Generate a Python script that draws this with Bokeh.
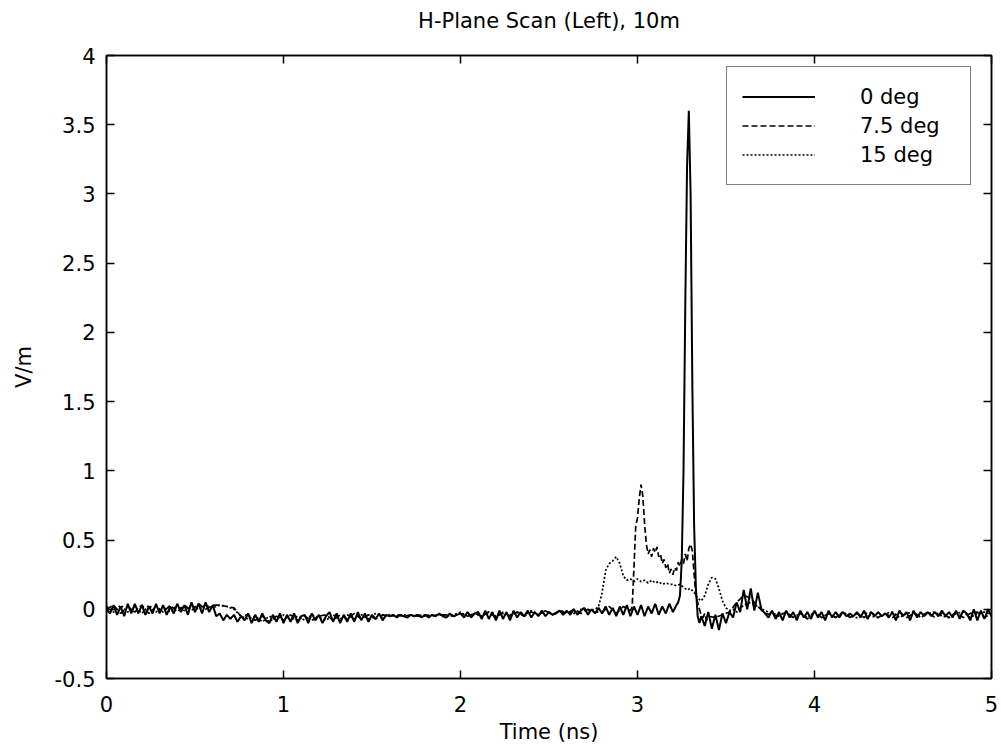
import numpy as np
from bokeh.plotting import figure
from bokeh.models import Range1d, LinearAxis, FixedTicker
from bokeh.embed import file_html
from bokeh.resources import INLINE

# ---------------- data ----------------
title_text = "H-Plane Scan (Left), 10m"
x_label = "Time (ns)"
y_label = "V/m"
series_names = ["0 deg", "7.5 deg", "15 deg"]

x_ticks = [0, 1, 2, 3, 4, 5]
x_tick_labels = ["0", "1", "2", "3", "4", "5"]
y_ticks = [-0.5, 0, 0.5, 1, 1.5, 2, 2.5, 3, 3.5, 4]
y_tick_labels = ["-0.5", "0", "0.5", "1", "1.5", "2", "2.5", "3", "3.5", "4"]

# 0 deg (solid): three segments (start, step, values)
deg0_a_start, deg0_a_step = 0.00, 0.02
deg0_a = [
    0.00, -0.03, 0.03, -0.04, 0.02, -0.05, 0.04, -0.03, 0.04, -0.03,
    0.03, -0.04, 0.02, -0.03, 0.04, -0.03, 0.03, -0.04, 0.02, -0.03,
    0.04, -0.02, 0.03, -0.04, 0.05, -0.02, 0.04, -0.03, 0.05, -0.02,
    0.03, -0.05, -0.03, -0.08, -0.04, -0.07, -0.04, -0.09, -0.05, -0.08,
    -0.03, -0.10, -0.04, -0.09, -0.03, -0.08, -0.10, -0.04, -0.09, -0.03,
    -0.10, -0.04, -0.09, -0.03, -0.10, -0.05, -0.04, -0.10, -0.03, -0.08,
    -0.04, -0.10, -0.05, -0.02, -0.09, -0.03, -0.10, -0.04, -0.09, -0.03,
    -0.09, -0.02, -0.08, -0.03, -0.09, -0.04, -0.07, -0.03, -0.08, -0.04,
    -0.05, -0.04, -0.06, -0.04, -0.05, -0.06, -0.04, -0.05, -0.04, -0.06,
    -0.04, -0.06, -0.04, -0.05, -0.03, -0.05, -0.06, -0.03, -0.05, -0.04,
    -0.03, -0.06, -0.02, -0.06, -0.03, -0.02, -0.07, -0.01, -0.07, -0.02,
    -0.08, -0.01, -0.07, -0.02, -0.08, -0.01, -0.06, -0.02, -0.05, -0.01,
    -0.06, -0.02, -0.05, -0.01, -0.05, -0.02, -0.04, -0.03, -0.01, -0.04,
    -0.01, -0.04, 0.00, -0.04, -0.01, 0.01, -0.04, 0.00, -0.03, 0.01,
    -0.03, 0.02, -0.04, 0.01, -0.05, 0.02, -0.04, 0.03, -0.05, 0.02,
    -0.04, 0.03, -0.05, 0.02, -0.03, 0.04, -0.04, 0.02, -0.03, 0.04,
    -0.02, 0.03,
]
deg0_b_start, deg0_b_step = 3.23, 0.01
deg0_b = [0.05, 0.10, 0.35, 1.00, 2.20, 3.20, 3.60, 3.00, 1.60, 0.60, 0.15, -0.05, -0.10]
deg0_c_start, deg0_c_step = 3.36, 0.02
deg0_c = [
    -0.05, -0.12, -0.02, -0.14, -0.04, -0.15, -0.03, -0.10, -0.02, -0.06,
    0.05, -0.02, 0.14, 0.00, 0.15, -0.01, 0.12, 0.00, -0.03, -0.06,
    -0.01, -0.07, -0.02, -0.08, -0.01, -0.06, -0.02, -0.08, -0.01, -0.06,
    -0.02, -0.07, -0.01, -0.06, -0.02, -0.08, -0.01, -0.06, -0.02, -0.06,
    -0.02, -0.05, -0.03, -0.05, -0.02, -0.06, -0.01, -0.07, -0.02, -0.05,
    -0.02, -0.05, -0.03, -0.06, -0.02, -0.08, -0.01, -0.05, -0.02, -0.08,
    -0.01, -0.06, -0.02, -0.05, -0.02, -0.05, -0.02, -0.05, -0.01, -0.05,
    -0.02, -0.06, -0.01, -0.07, -0.01, -0.03, -0.08, 0.00, -0.08, -0.01,
    -0.07, 0.00, -0.05,
]

# 7.5 deg (dashed)
deg75_a_start, deg75_a_step = 0.00, 0.04
deg75_a = [
    0.00, 0.03, -0.03, 0.02, -0.02, 0.03, -0.03, 0.02, -0.02, 0.03,
    -0.02, 0.03, -0.01, 0.04, 0.00, 0.03, 0.03, 0.02, 0.01, -0.05,
    -0.04, -0.08, -0.05, -0.09, -0.05, -0.08, -0.04, -0.08, -0.05, -0.08,
    -0.05, -0.04, -0.08, -0.04, -0.07, -0.03, -0.07, -0.04, -0.07, -0.04,
    -0.05, -0.04, -0.05, -0.04, -0.05, -0.04, -0.05, -0.04, -0.04, -0.05,
    -0.03, -0.05, -0.03, -0.05, -0.02, -0.06, -0.02, -0.05, -0.02, -0.05,
    -0.02, -0.04, -0.01, -0.04, -0.01, -0.03, 0.00, -0.03, 0.00, -0.02,
    -0.02, 0.02, -0.03, 0.02, -0.01,
]
deg75_b_start, deg75_b_step = 2.97, 0.01
deg75_b = [
    0.02, 0.30, 0.60, 0.66, 0.80, 0.90, 0.82, 0.62, 0.47, 0.40,
    0.43, 0.38, 0.44, 0.41, 0.45, 0.38, 0.40, 0.33, 0.36, 0.30,
    0.33, 0.26, 0.29, 0.25, 0.30, 0.28, 0.34, 0.31, 0.36, 0.33,
    0.40, 0.35, 0.44, 0.47, 0.42, 0.25, 0.10, 0.05, 0.00, -0.04,
    -0.06, -0.03, -0.08, -0.05,
]
deg75_c_start, deg75_c_step = 3.44, 0.04
deg75_c = [
    -0.06, -0.04, -0.02, 0.05, 0.10, 0.08, 0.02, -0.03, -0.04, -0.05,
    -0.02, -0.06, -0.03, -0.07, -0.02, -0.06, -0.03, -0.06, -0.02, -0.06,
    -0.03, -0.06, -0.02, -0.06, -0.03, -0.06, -0.02, -0.06, -0.03, -0.05,
    -0.02, -0.06, -0.03, -0.06, -0.02, -0.06, -0.03, -0.02, -0.06, -0.03,
]

# 15 deg (dotted)
deg15_a_start, deg15_a_step = 0.00, 0.04
deg15_a = [
    0.02, -0.02, 0.03, -0.02, 0.02, -0.03, 0.03, -0.02, 0.02, -0.02,
    0.03, -0.01, 0.03, 0.00, 0.03, 0.01, 0.03, 0.02, 0.00, -0.05,
    -0.07, -0.05, -0.09, -0.05, -0.08, -0.04, -0.08, -0.05, -0.08, -0.04,
    -0.06, -0.08, -0.04, -0.07, -0.04, -0.07, -0.04, -0.07, -0.03, -0.06,
    -0.04, -0.05, -0.04, -0.05, -0.04, -0.05, -0.04, -0.04, -0.05, -0.04,
    -0.02, -0.05, -0.03, -0.05, -0.02, -0.05, -0.03, -0.04, -0.02, -0.05,
    -0.01, -0.04, -0.01, -0.04, -0.01, -0.02, -0.03, 0.00, -0.01, 0.00,
]
deg15_b_start, deg15_b_step = 2.78, 0.02
deg15_b = [
    0.02, 0.12, 0.28, 0.33, 0.35, 0.38, 0.33, 0.24, 0.21, 0.22,
    0.20, 0.22, 0.20, 0.21, 0.19, 0.21, 0.19, 0.20, 0.18, 0.19,
    0.18, 0.18, 0.17, 0.18, 0.16, 0.14, 0.15, 0.12, 0.08, 0.06,
    0.10, 0.18, 0.23, 0.22, 0.15, 0.06, 0.01, -0.01, 0.00, -0.02,
]
deg15_c_start, deg15_c_step = 3.60, 0.04
deg15_c = [
    0.03, 0.05, 0.02, -0.01, -0.03, -0.04, -0.02, -0.06, -0.03, -0.06,
    -0.02, -0.06, -0.03, -0.06, -0.02, -0.05, -0.06, -0.02, -0.05, -0.06,
    -0.03, -0.02, -0.06, -0.03, -0.02, -0.06, -0.03, -0.02, -0.05, -0.06,
    -0.03, -0.02, -0.06, -0.03, -0.02, -0.04,
]


def seg_t(start, step, vals):
    return [round(start + step * i, 4) for i in range(len(vals))]


t0 = seg_t(deg0_a_start, deg0_a_step, deg0_a) + seg_t(deg0_b_start, deg0_b_step, deg0_b) + seg_t(deg0_c_start, deg0_c_step, deg0_c)
v0 = deg0_a + deg0_b + deg0_c
t75 = seg_t(deg75_a_start, deg75_a_step, deg75_a) + seg_t(deg75_b_start, deg75_b_step, deg75_b) + seg_t(deg75_c_start, deg75_c_step, deg75_c)
v75 = deg75_a + deg75_b + deg75_c
t15 = seg_t(deg15_a_start, deg15_a_step, deg15_a) + seg_t(deg15_b_start, deg15_b_step, deg15_b) + seg_t(deg15_c_start, deg15_c_step, deg15_c)
v15 = deg15_a + deg15_b + deg15_c

# ---------------- figure ----------------
FONT = "DejaVu Sans"
FS = "21px"

p = figure(width=1001, height=754, output_backend="svg", toolbar_location=None,
           title=None,
           x_range=Range1d(0, 5), y_range=Range1d(-0.5, 4),
           min_border_left=106, min_border_right=10, min_border_top=55, min_border_bottom=76)
p.background_fill_color = "white"
p.border_fill_color = "white"
p.outline_line_color = "black"
p.outline_line_width = 1.5
p.grid.visible = False

xt = FixedTicker(ticks=x_ticks)
yt = FixedTicker(ticks=y_ticks)

for ax, tk, labels in ((p.xaxis[0], xt, x_tick_labels), (p.yaxis[0], yt, y_tick_labels)):
    ax.ticker = tk
    ax.major_label_overrides = {v: s for v, s in zip(tk.ticks, labels)}
    ax.major_tick_in = 8
    ax.major_tick_out = 0
    ax.minor_tick_line_color = None
    ax.axis_line_width = 1.5
    ax.major_tick_line_width = 1.5
    ax.axis_line_color = "black"
    ax.major_label_text_font = FONT
    ax.major_label_text_font_size = FS
    ax.major_label_text_color = "black"
    ax.axis_label_text_font = FONT
    ax.axis_label_text_font_size = FS
    ax.axis_label_text_font_style = "normal"
    ax.axis_label_text_color = "black"

p.xaxis[0].axis_label = x_label
p.yaxis[0].axis_label = y_label
p.xaxis[0].major_label_standoff = 17
p.xaxis[0].axis_label_standoff = 5
p.yaxis[0].major_label_standoff = 11
p.yaxis[0].axis_label_standoff = 16

# mirrored ticks on the right; the top axis also carries the chart title
right_ax = LinearAxis(ticker=yt, major_label_overrides={v: "" for v in yt.ticks},
                      major_label_text_font_size="0px", major_label_standoff=0,
                      major_tick_in=8, major_tick_out=0, minor_tick_line_color=None,
                      axis_line_width=1.5, major_tick_line_width=1.5)
p.add_layout(right_ax, "right")

top_ax = LinearAxis(ticker=xt, major_label_overrides={v: "" for v in xt.ticks},
                    major_label_text_font_size="0px", major_label_standoff=0,
                    major_tick_in=8, major_tick_out=0, minor_tick_line_color=None,
                    axis_line_width=1.5, major_tick_line_width=1.5,
                    axis_label=title_text, axis_label_standoff=23,
                    axis_label_text_font=FONT, axis_label_text_font_size=FS,
                    axis_label_text_font_style="normal", axis_label_text_color="black")
p.add_layout(top_ax, "above")

p.line(t0, v0, line_color="black", line_width=2.0, legend_label=series_names[0])
p.line(t75, v75, line_color="black", line_width=1.7, line_dash="6 3", legend_label=series_names[1])
p.line(t15, v15, line_color="black", line_width=1.7, line_dash="2 2", legend_label=series_names[2])

lg = p.legend[0]
lg.location = (620, 493)
lg.label_text_font = FONT
lg.label_text_font_size = FS
lg.label_text_color = "black"
lg.glyph_width = 73
lg.glyph_height = 29
lg.label_height = 29
lg.label_width = 95
lg.label_standoff = 45
lg.spacing = 0
lg.padding = 15
lg.margin = 0
lg.border_line_color = "black"
lg.border_line_width = 1.5
lg.background_fill_color = "white"
lg.background_fill_alpha = 1.0

open("out.html", "w").write(file_html(p, INLINE))
